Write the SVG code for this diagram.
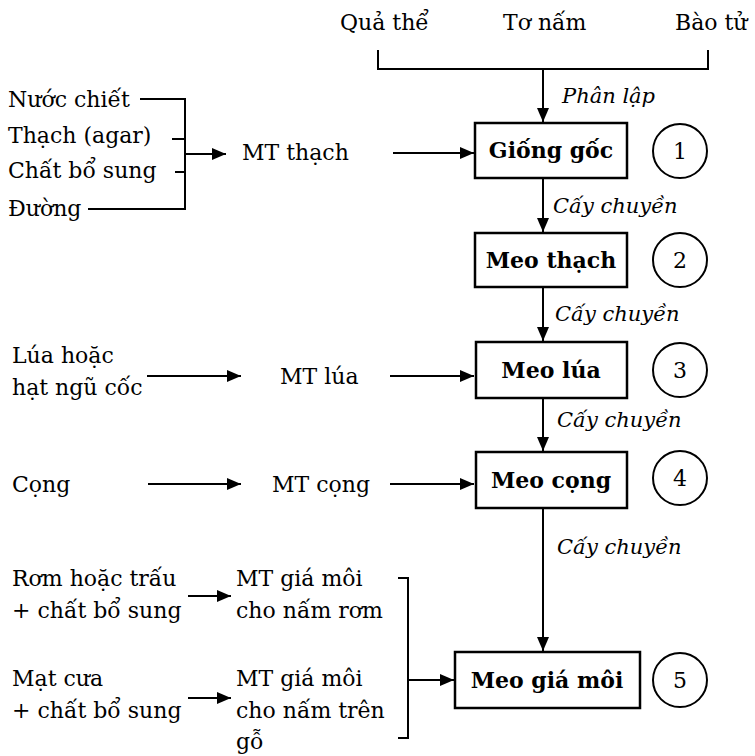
<svg xmlns="http://www.w3.org/2000/svg" width="755" height="756" viewBox="0 0 755 756">
  <defs>
    <marker id="arr" viewBox="0 0 14 12" refX="14" refY="6" markerWidth="14" markerHeight="12" markerUnits="userSpaceOnUse" orient="auto">
      <path d="M0,0 L14,6 L0,12 z" fill="#000"/>
    </marker>
    <style>
      text { font-family: "DejaVu Serif", "Liberation Serif", serif; font-size: 22px; fill: #000; }
      .b { font-weight: bold; }
      .i { font-style: italic; font-size: 21px; }
      .box { fill: #fff; stroke: #000; stroke-width: 2.5; }
      .num { fill: none; stroke: #000; stroke-width: 2; }
      .ln { fill: none; stroke: #000; stroke-width: 2; }
      .ar { fill: none; stroke: #000; stroke-width: 2; marker-end: url(#arr); }
    </style>
  </defs>
  <rect width="755" height="756" fill="#fff"/>

  <!-- connectors -->
  <g id="connectors">
    <!-- source bracket at top -->
    <path class="ln" d="M378,50 V69 H708 V50"/>
    <path class="ar" d="M543,69 V122"/>
    <!-- agar medium inputs -->
    <path class="ln" d="M140,99 H185 V209 H88 M172,139 H185 M175,172 H185"/>
    <path class="ar" d="M185,154 H226"/>
    <path class="ar" d="M393,153 H474"/>
    <!-- main chain -->
    <path class="ar" d="M543,178 V232"/>
    <path class="ar" d="M543,287 V341"/>
    <path class="ar" d="M543,398 V451"/>
    <path class="ar" d="M543,508 V651"/>
    <!-- grain -->
    <path class="ar" d="M147,376 H241"/>
    <path class="ar" d="M390,376 H474"/>
    <!-- stalk -->
    <path class="ar" d="M148,484 H241"/>
    <path class="ar" d="M390,484 H474"/>
    <!-- substrates -->
    <path class="ar" d="M188,596 H231"/>
    <path class="ar" d="M188,698 H231"/>
    <path class="ln" d="M398,578 H408 V738 H398"/>
    <path class="ar" d="M408,680 H454"/>
  </g>

  <!-- source labels -->
  <g id="sources">
    <text x="340" y="30">Quả thể</text>
    <text x="503" y="30">Tơ nấm</text>
    <text x="675" y="30">Bào tử</text>
  </g>
  <text class="i" x="562" y="103">Phân lập</text>

  <g id="agar-inputs">
    <text x="8" y="107">Nước chiết</text>
    <text x="8" y="143">Thạch (agar)</text>
    <text x="8" y="178">Chất bổ sung</text>
    <text x="8" y="216">Đường</text>
  </g>
  <g id="mt-thach"><text x="242" y="160">MT thạch</text></g>

  <g id="node1">
    <rect class="box" x="475" y="123" width="152" height="55"/>
    <text class="b" x="551" y="158" text-anchor="middle">Giống gốc</text>
    <circle class="num" cx="680" cy="151" r="27"/>
    <text x="680" y="159" text-anchor="middle">1</text>
  </g>
  <text class="i" x="553" y="213">Cấy chuyền</text>

  <g id="node2">
    <rect class="box" x="475" y="233" width="152" height="54"/>
    <text class="b" x="551" y="268" text-anchor="middle">Meo thạch</text>
    <circle class="num" cx="680" cy="260" r="27"/>
    <text x="680" y="268" text-anchor="middle">2</text>
  </g>
  <text class="i" x="555" y="321">Cấy chuyền</text>

  <g id="grain-input">
    <text x="12" y="363">Lúa hoặc</text>
    <text x="12" y="395">hạt ngũ cốc</text>
  </g>
  <g id="mt-lua"><text x="280" y="384">MT lúa</text></g>
  <g id="node3">
    <rect class="box" x="476" y="342" width="151" height="56"/>
    <text class="b" x="551" y="378" text-anchor="middle">Meo lúa</text>
    <circle class="num" cx="680" cy="370" r="27"/>
    <text x="680" y="378" text-anchor="middle">3</text>
  </g>
  <text class="i" x="557" y="427">Cấy chuyền</text>

  <g id="stalk-input"><text x="12" y="492">Cọng</text></g>
  <g id="mt-cong"><text x="272" y="492">MT cọng</text></g>
  <g id="node4">
    <rect class="box" x="476" y="452" width="151" height="56"/>
    <text class="b" x="551" y="488" text-anchor="middle">Meo cọng</text>
    <circle class="num" cx="680" cy="478" r="27"/>
    <text x="680" y="486" text-anchor="middle">4</text>
  </g>
  <text class="i" x="557" y="554">Cấy chuyền</text>

  <g id="straw-input">
    <text x="12" y="586">Rơm hoặc trấu</text>
    <text x="12" y="618">+ chất bổ sung</text>
  </g>
  <g id="mt-straw">
    <text x="236" y="586">MT giá môi</text>
    <text x="236" y="618">cho nấm rơm</text>
  </g>
  <g id="sawdust-input">
    <text x="12" y="686">Mạt cưa</text>
    <text x="12" y="718">+ chất bổ sung</text>
  </g>
  <g id="mt-wood">
    <text x="236" y="686">MT giá môi</text>
    <text x="236" y="718">cho nấm trên</text>
    <text x="236" y="749">gỗ</text>
  </g>
  <g id="node5">
    <rect class="box" x="455" y="652" width="185" height="56"/>
    <text class="b" x="547" y="688" text-anchor="middle">Meo giá môi</text>
    <circle class="num" cx="680" cy="680" r="27"/>
    <text x="680" y="688" text-anchor="middle">5</text>
  </g>
</svg>
